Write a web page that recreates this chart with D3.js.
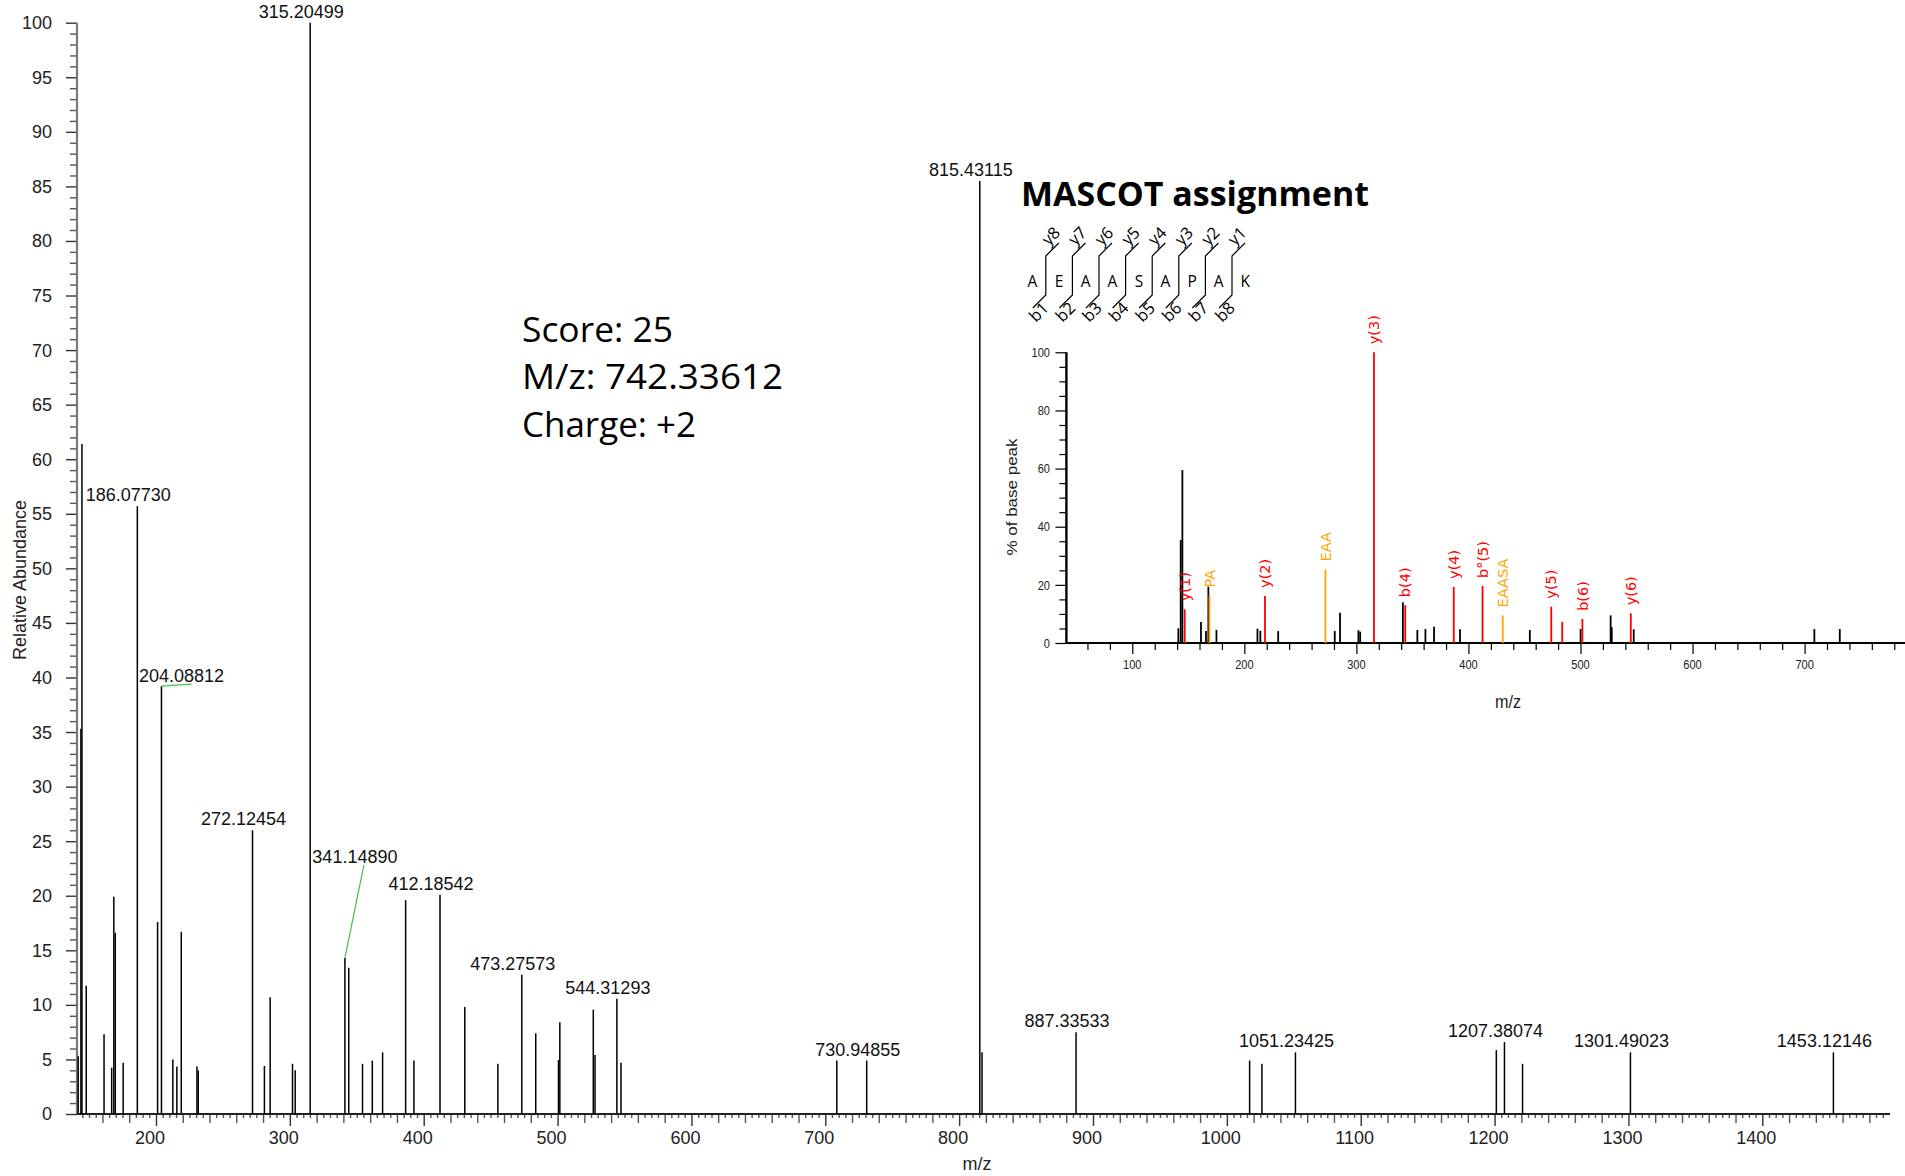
<!DOCTYPE html>
<html lang="en">
<head>
<meta charset="UTF-8">
<title>MS/MS spectrum with MASCOT assignment</title>
<script src="https://d3js.org/d3.v7.min.js"></script>
<style>
  body { margin: 0; background: #fff; }
  text { font-family: "Liberation Sans", Arial, sans-serif; }
  .calibri { font-family: "Open Sans", "Noto Sans", sans-serif; }
  .inset text { font-family: "DejaVu Sans", Verdana, sans-serif; }
</style>
</head>
<body>
<script>
// ---- main spectrum (Thermo style) ----
const mainMz = [141.9, 143.9, 144.7, 147.9, 161.2, 166.9, 168.5, 169.6, 175.5, 186.0773,
  201.2, 204.08812, 212.6, 215.6, 218.9, 230.6, 231.6, 272.12454, 281.0, 285.3,
  302.0, 304.0, 315.20499, 341.1489, 344.0, 354.3, 361.6, 369.3, 386.5, 392.7,
  412.18542, 430.7, 455.4, 473.27573, 483.7, 500.7, 501.7, 526.7, 528.0, 544.31293,
  547.4, 708.6, 730.94855, 815.43115, 817.1, 887.33533, 1017.0, 1026.2, 1051.23425, 1201.3,
  1207.38074, 1220.9, 1301.49023, 1453.12146];
const mainInt = [5.3, 35.3, 61.4, 11.75, 7.3, 4.25, 19.9, 16.6, 4.7, 55.7,
  17.6, 39.2, 5.0, 4.35, 16.7, 4.35, 4.0, 26.0, 4.4, 10.7,
  4.6, 4.0, 100, 14.3, 13.4, 4.6, 4.9, 5.65, 19.6, 4.9,
  20.1, 9.8, 4.6, 12.75, 7.4, 4.95, 8.4, 9.55, 5.4, 10.55,
  4.7, 4.9, 4.9, 85.5, 5.65, 7.5, 4.9, 4.6, 5.65, 5.85,
  6.6, 4.6, 5.65, 5.65];
const mainLabels = ["186.07730", "204.08812", "272.12454", "315.20499", "341.14890", "412.18542",
  "473.27573", "544.31293", "730.94855", "815.43115", "887.33533", "1051.23425",
  "1207.38074", "1301.49023", "1453.12146"];
const mainXTicks = [200, 300, 400, 500, 600, 700, 800, 900, 1000, 1100, 1200, 1300, 1400];
const mainYTicks = [0, 5, 10, 15, 20, 25, 30, 35, 40, 45, 50, 55, 60, 65, 70, 75, 80, 85, 90, 95, 100];

// ---- MASCOT inset ----
const insetMz = [141.1, 143.2, 144.7, 146.8, 161.3, 165.8, 167.9, 168.9, 175.1, 211.7,
  214.3, 218.4, 230.2, 272.4, 280.7, 285.4, 301.8, 303.4, 315.7, 341.5,
  343.6, 354.4, 361.6, 369.3, 386.9, 392.5, 412.6, 430.6, 454.8, 473.9,
  483.7, 500.1, 501.7, 526.9, 527.9, 544.9, 547.5, 708.7, 731.4];
const insetInt = [5.05, 35.4, 59.5, 11.6, 7.2, 4.1, 19.4, 16.3, 4.5, 4.9,
  4.2, 16.2, 4.1, 25.3, 4.1, 10.4, 4.4, 3.9, 100, 14,
  13, 4.5, 4.8, 5.6, 19.3, 4.7, 19.6, 9.5, 4.5, 12.5,
  7.3, 4.8, 8.3, 9.5, 5.4, 10.2, 4.7, 4.8, 4.8];
// "" = unmatched, "y"/"b" = sequence ion (red), "i" = internal fragment (orange)
const insetType = ["", "", "", "y", "", "", "", "i", "", "",
  "", "y", "", "i", "", "", "", "", "y", "",
  "b", "", "", "", "y", "", "b", "i", "", "y",
  "y", "", "b", "", "", "y", "", "", ""];
const insetLabel = ["", "", "", "y(1)", "", "", "", "PA", "", "",
  "", "y(2)", "", "EAA", "", "", "", "", "y(3)", "",
  "b(4)", "", "", "", "y(4)", "", "b°(5)", "EAASA", "", "y(5)",
  "", "", "b(6)", "", "", "y(6)", "", "", ""];
const insetXTicks = [100, 200, 300, 400, 500, 600, 700];
const insetYTicks = [0, 20, 40, 60, 80, 100];

const sequence = ["A", "E", "A", "A", "S", "A", "P", "A", "K"];

const W = 1905, H = 1176;
const svg = d3.select("body").append("svg")
  .attr("width", W).attr("height", H);
svg.append("rect").attr("width", W).attr("height", H).attr("fill", "#fff");

// scales
const x = d3.scaleLinear().domain([141, 1495.4]).range([77, 1890]);
const y = d3.scaleLinear().domain([0, 100]).range([1114, 22.7]);

// x axis: minor every 5, medium every 20, major every 100
const g = svg.append("g");
function tickAxis(vals, size, color) {
  g.append("g").attr("transform", "translate(0,1114)")
    .call(d3.axisBottom(x).tickValues(vals).tickSize(size).tickFormat(""))
    .call(a => a.select(".domain").remove())
    .call(a => a.selectAll("line").attr("stroke", color).attr("stroke-width", 1.4));
}
tickAxis(d3.range(145, 1495, 5).filter(v => v % 20 && v % 100), 4, "#555");
tickAxis(d3.range(160, 1495, 20).filter(v => v % 100), 9, "#555");
tickAxis(mainXTicks, 12, "#333");
g.append("line").attr("x1", 77).attr("x2", 1890).attr("y1", 1114).attr("y2", 1114)
  .attr("stroke", "#222").attr("stroke-width", 2);
g.selectAll(".xl").data(mainXTicks).join("text")
  .attr("x", d => x(d) - 6).attr("y", 1144)
  .attr("text-anchor", "middle").attr("font-size", 18).attr("fill", "#222")
  .text(d => d);

// y axis
g.append("g").attr("transform", "translate(77,0)")
  .call(d3.axisLeft(y).tickValues(d3.range(0, 101, 1).filter(v => v % 5)).tickSize(7).tickFormat(""))
  .call(a => a.select(".domain").remove())
  .call(a => a.selectAll("line").attr("stroke", "#555").attr("stroke-width", 1.4));
g.append("g").attr("transform", "translate(77,0)")
  .call(d3.axisLeft(y).tickValues(mainYTicks).tickSize(11).tickFormat(""))
  .call(a => a.select(".domain").remove())
  .call(a => a.selectAll("line").attr("stroke", "#333").attr("stroke-width", 1.4));
g.append("line").attr("x1", 77).attr("x2", 77).attr("y1", y(100)).attr("y2", 1114)
  .attr("stroke", "#7a7a7a").attr("stroke-width", 2.2);
g.selectAll(".yl").data(mainYTicks).join("text")
  .attr("x", 52).attr("y", d => y(d)).attr("dy", "0.36em")
  .attr("text-anchor", "end").attr("font-size", 18).attr("fill", "#222")
  .text(d => d);

g.append("text").attr("transform", "translate(26,580) rotate(-90)")
  .attr("text-anchor", "middle").attr("font-size", 18).attr("fill", "#222")
  .text("Relative Abundance");
g.append("text").attr("x", 977).attr("y", 1170)
  .attr("text-anchor", "middle").attr("font-size", 18).attr("fill", "#222")
  .text("m/z");

// peaks
const peaks = mainMz.map((m, i) => ({ mz: m, v: mainInt[i] }));
g.selectAll(".pk").data(peaks).join("line")
  .attr("x1", d => x(d.mz)).attr("x2", d => x(d.mz))
  .attr("y1", y(0)).attr("y2", d => y(d.v))
  .attr("stroke", "#000").attr("stroke-width", 1.5);

// peak labels (a couple are moved off the peak with a green leader)
const nudge = { "204.08812": [29, 1], "341.14890": [19, -90] };
const lab = mainLabels.map(s => {
  const p = peaks.find(d => Math.abs(d.mz - +s) < 0.01);
  const n = nudge[s] || [0, 0];
  return { s, px: x(p.mz), py: y(p.v), lx: x(p.mz) - 9 + n[0], ly: y(p.v) - 5 + n[1], moved: !!nudge[s] };
});
g.selectAll(".lead").data(lab.filter(d => d.moved)).join("line")
  .attr("x1", d => d.px).attr("y1", d => d.py)
  .attr("x2", d => d.s === "204.08812" ? d.lx + 10 : d.lx + 9)
  .attr("y2", d => d.ly + 2)
  .attr("stroke", "#44c044").attr("stroke-width", 1.2);
g.selectAll(".pl").data(lab).join("text")
  .attr("x", d => d.lx).attr("y", d => d.ly)
  .attr("text-anchor", "middle").attr("font-size", 18).attr("fill", "#111")
  .text(d => d.s);

// ---- score block ----
const info = ["Score: 25", "M/z: 742.33612", "Charge: +2"];
const infoLen = [151, 261, 174];   // rendered widths in the original
svg.selectAll(".info").data(info).join("text")
  .attr("class", "calibri")
  .attr("x", 522).attr("y", (d, i) => 341.5 + i * 47.5)
  .attr("font-size", 35.5).attr("fill", "#000")
  .attr("textLength", (d, i) => infoLen[i]).attr("lengthAdjust", "spacingAndGlyphs")
  .text(d => d);

svg.append("text").attr("class", "calibri")
  .attr("x", 1021).attr("y", 206)
  .attr("font-size", 34).attr("font-weight", "bold")
  .attr("textLength", 348).attr("lengthAdjust", "spacingAndGlyphs")
  .text("MASCOT assignment");

// ---- peptide fragmentation map ----
const seqX = d3.scaleLinear().domain([0, 1]).range([1032.5, 1059.1]);
const sq = svg.append("g");
sq.selectAll(".aa").data(sequence).join("text")
  .attr("class", "calibri")
  .attr("x", (d, i) => seqX(i)).attr("y", 286.5)
  .attr("text-anchor", "middle").attr("font-size", 15.5)
  .text(d => d);
const cuts = d3.range(sequence.length - 1);
sq.selectAll(".cut").data(cuts).join("path")
  .attr("d", i => {
    const cx = seqX(i + 0.5);
    return `M${cx + 13},243 L${cx},256 L${cx},295 L${cx - 13},308`;
  })
  .attr("fill", "none").attr("stroke", "#000").attr("stroke-width", 1.2);
sq.selectAll(".yi").data(cuts).join("text")
  .attr("class", "calibri")
  .attr("transform", i => `translate(${seqX(i + 0.5) + 5},236) rotate(-45)`)
  .attr("text-anchor", "middle").attr("dy", "0.35em").attr("font-size", 16.5)
  .text(i => "y" + (sequence.length - 1 - i));
sq.selectAll(".bi").data(cuts).join("text")
  .attr("class", "calibri")
  .attr("transform", i => `translate(${seqX(i + 0.5) - 7},312) rotate(-45)`)
  .attr("text-anchor", "middle").attr("dy", "0.35em").attr("font-size", 16.5)
  .text(i => "b" + (i + 1));

// ---- inset spectrum ----
const xi = d3.scaleLinear().domain([41.2, 789.6]).range([1066.4, 1905]);
const yi = d3.scaleLinear().domain([0, 100]).range([643, 352.3]);
const ins = svg.append("g").attr("class", "inset");
const colorOf = t => t === "" ? "#000" : (t === "i" ? "#ffa500" : "#ff0000");

ins.append("g").attr("transform", "translate(0,643)")
  .call(d3.axisBottom(xi).tickValues(d3.range(60, 790, 20).filter(v => v % 100)).tickSize(7).tickFormat(""))
  .call(a => a.select(".domain").remove())
  .call(a => a.selectAll("line").attr("stroke", "#000").attr("stroke-width", 1.2));
ins.append("g").attr("transform", "translate(0,643)")
  .call(d3.axisBottom(xi).tickValues(insetXTicks).tickSize(11).tickFormat(""))
  .call(a => a.select(".domain").remove())
  .call(a => a.selectAll("line").attr("stroke", "#000").attr("stroke-width", 1.2));
ins.append("g").attr("transform", "translate(1066.4,0)")
  .call(d3.axisLeft(yi).tickValues(d3.range(0, 101, 5).filter(v => v % 20)).tickSize(7).tickFormat(""))
  .call(a => a.select(".domain").remove())
  .call(a => a.selectAll("line").attr("stroke", "#000").attr("stroke-width", 1.2));
ins.append("g").attr("transform", "translate(1066.4,0)")
  .call(d3.axisLeft(yi).tickValues(insetYTicks).tickSize(11).tickFormat(""))
  .call(a => a.select(".domain").remove())
  .call(a => a.selectAll("line").attr("stroke", "#000").attr("stroke-width", 1.2));
ins.append("line").attr("x1", 1066.4).attr("x2", 1905).attr("y1", 643).attr("y2", 643)
  .attr("stroke", "#000").attr("stroke-width", 2.2);
ins.append("line").attr("x1", 1066.4).attr("x2", 1066.4).attr("y1", yi(100)).attr("y2", 643)
  .attr("stroke", "#000").attr("stroke-width", 2.4);

ins.selectAll(".ixl").data(insetXTicks).join("text")
  .attr("transform", d => `translate(${xi(d)},669) scale(0.85,1)`)
  .attr("text-anchor", "middle").attr("font-size", 13).attr("fill", "#222")
  .style("font-family", "'Liberation Sans', Arial, sans-serif")
  .text(d => d);
ins.selectAll(".iyl").data(insetYTicks).join("text")
  .attr("transform", d => `translate(1050,${yi(d)}) scale(0.85,1)`)
  .attr("dy", "0.36em")
  .attr("text-anchor", "end").attr("font-size", 13).attr("fill", "#222")
  .style("font-family", "'Liberation Sans', Arial, sans-serif")
  .text(d => d);
ins.append("text").attr("transform", "translate(1508,708) scale(0.9,1)")
  .attr("text-anchor", "middle").attr("font-size", 18).attr("fill", "#222")
  .style("font-family", "'Liberation Sans', Arial, sans-serif")
  .text("m/z");
ins.append("text").attr("transform", "translate(1012,497) scale(0.9,1) rotate(-90)")
  .attr("text-anchor", "middle").attr("dy", "0.35em").attr("font-size", 17).attr("fill", "#222")
  .style("font-family", "'Liberation Sans', Arial, sans-serif")
  .text("% of base peak");

const ipk = insetMz.map((m, i) => ({ mz: m, v: insetInt[i], t: insetType[i], l: insetLabel[i] }));
// black peaks first, matched ions drawn on top
ipk.sort((a, b) => (a.t === "" ? 0 : 1) - (b.t === "" ? 0 : 1));
ins.selectAll(".ipk").data(ipk).join("line")
  .attr("x1", d => xi(d.mz)).attr("x2", d => xi(d.mz))
  .attr("y1", 643).attr("y2", d => yi(d.v))
  .attr("stroke", d => colorOf(d.t)).attr("stroke-width", 1.8);
ins.selectAll(".ilab").data(ipk.filter(d => d.l)).join("text")
  .attr("transform", d => `translate(${xi(d.mz)},${yi(d.v) - 8}) rotate(-90)`)
  .attr("dy", "0.36em").attr("font-size", 14.5)
  .attr("fill", d => colorOf(d.t))
  .text(d => d.l);
</script>
</body>
</html>
